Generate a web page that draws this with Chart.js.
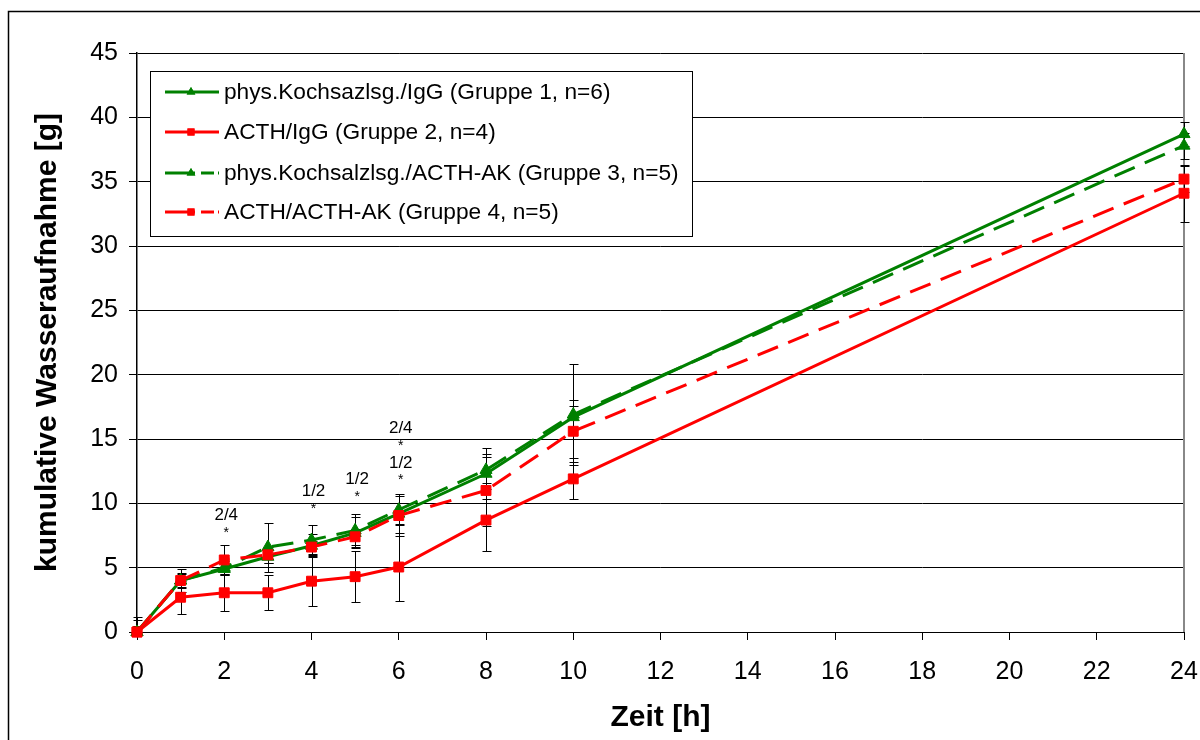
<!DOCTYPE html>
<html>
<head>
<meta charset="utf-8">
<script src="https://cdn.jsdelivr.net/npm/chart.js@4.4.0/dist/chart.umd.min.js"></script>
<style>
  html, body { margin: 0; padding: 0; background: #fff; }
  #wrap { width: 1200px; height: 740px; }
</style>
</head>
<body>
<div id="wrap"><canvas id="chart" width="1200" height="740"></canvas></div>
<script>
// Zeitpunkte (h)
const hours = [0, 1, 2, 3, 4, 5, 6, 8, 10, 24];

// kumulative Wasseraufnahme [g], Mittelwerte
const gruppe1 = [0, 4.0, 4.9, 5.85, 6.7, 7.7, 9.2, 12.3, 16.7, 38.7];
const gruppe2 = [0, 2.7, 3.05, 3.05, 3.95, 4.3, 5.05, 8.7, 11.9, 34.1];
const gruppe3 = [0, 4.0, 5.0, 6.6, 7.15, 7.9, 9.5, 12.6, 16.9, 37.8];
const gruppe4 = [0, 4.0, 5.6, 6.0, 6.6, 7.4, 9.05, 11.0, 15.6, 35.2];

// Fehlerbalken (+/-)
const fehler1 = [1.2, 0.9, 0.5, 0.5, 0.9, 1.2, 0.8, 2.0, 0.9, 0.9];
const fehler2 = [0.5, 1.3, 1.45, 1.35, 1.95, 2.0, 2.65, 2.4, 1.6, 2.2];
const fehler3 = [0.9, 0.5, 0.5, 1.9, 1.15, 1.3, 1.2, 1.0, 3.9, 1.0];
const fehler4 = [0.5, 0.6, 1.2, 0.6, 0.5, 0.6, 1.55, 2.8, 2.4, 1.0];

const labels = [
  'phys.Kochsazlsg./IgG (Gruppe 1, n=6)',
  'ACTH/IgG (Gruppe 2, n=4)',
  'phys.Kochsalzlsg./ACTH-AK (Gruppe 3, n=5)',
  'ACTH/ACTH-AK (Gruppe 4, n=5)'
];

// Signifikanz-Markierungen
const sigHours = [2, 2, 4, 4, 5, 5, 6, 6, 6, 6];
const sigLevels = [9.1, 7.7, 10.9, 9.55, 11.9, 10.5, 15.8, 14.45, 13.1, 11.8];
const sigTexts = ['2/4', '*', '1/2', '*', '1/2', '*', '2/4', '*', '1/2', '*'];

const FONT = "'Liberation Sans', Arial, sans-serif";
const GREEN = '#008000';
const RED = '#ff0000';
const DASH = [22, 11];

const series = [
  { label: labels[0], values: gruppe1, err: fehler1, color: GREEN, dash: [], style: 'triangle', order: 3 },
  { label: labels[1], values: gruppe2, err: fehler2, color: RED, dash: [], style: 'rect', order: 2 },
  { label: labels[2], values: gruppe3, err: fehler3, color: GREEN, dash: DASH, style: 'triangle', order: 1 },
  { label: labels[3], values: gruppe4, err: fehler4, color: RED, dash: DASH, style: 'rect', order: 0 }
];

// Rahmen, Fehlerbalken, Beschriftungen, Legende
const extras = {
  id: 'extras',
  beforeDraw(chart) {
    const ctx = chart.ctx;
    ctx.save();
    ctx.fillStyle = '#fff';
    ctx.fillRect(0, 0, chart.width, chart.height);
    ctx.strokeStyle = '#000';
    ctx.lineWidth = 1.5;
    ctx.strokeRect(8.5, 11.5, 1300, 900);
    ctx.restore();
  },
  beforeDatasetsDraw(chart) {
    const { ctx, chartArea: a, scales: { x, y } } = chart;
    ctx.save();
    // rechter Rand der Zeichenfläche
    ctx.strokeStyle = '#888';
    ctx.lineWidth = 2;
    ctx.beginPath();
    ctx.moveTo(a.right, a.top);
    ctx.lineTo(a.right, a.bottom);
    ctx.stroke();

    ctx.beginPath();
    ctx.rect(0, a.top, chart.width, a.bottom - a.top);
    ctx.clip();
    ctx.strokeStyle = '#000';
    ctx.lineWidth = 1;
    series.forEach(s => {
      hours.forEach((h, i) => {
        const px = Math.round(x.getPixelForValue(h)) + 0.5;
        const top = Math.round(y.getPixelForValue(s.values[i] + s.err[i])) + 0.5;
        const bot = Math.round(y.getPixelForValue(s.values[i] - s.err[i])) + 0.5;
        ctx.beginPath();
        ctx.moveTo(px, top); ctx.lineTo(px, bot);
        ctx.moveTo(px - 4, top); ctx.lineTo(px + 5, top);
        ctx.moveTo(px - 4, bot); ctx.lineTo(px + 5, bot);
        ctx.stroke();
      });
    });
    ctx.restore();
  },
  afterDatasetsDraw(chart) {
    const { ctx, scales: { x, y } } = chart;
    ctx.save();
    ctx.fillStyle = '#000';
    ctx.textAlign = 'center';
    ctx.textBaseline = 'middle';
    sigTexts.forEach((t, i) => {
      ctx.font = (t === '*' ? '14px ' : '17px ') + FONT;
      ctx.fillText(t, x.getPixelForValue(sigHours[i]) + 2, y.getPixelForValue(sigLevels[i]));
    });

    // Legende
    const lx = 150.5, ly = 71.5, lw = 542, lh = 165;
    ctx.fillStyle = '#fff';
    ctx.fillRect(lx, ly, lw, lh);
    ctx.strokeStyle = '#000';
    ctx.lineWidth = 1;
    ctx.strokeRect(lx, ly, lw, lh);
    const rows = [92, 132, 173, 212];
    series.forEach((s, i) => {
      const yy = rows[i];
      ctx.strokeStyle = s.color;
      ctx.lineWidth = 3;
      ctx.setLineDash(s.dash.length ? [30, 6, 13, 4] : []);
      ctx.beginPath();
      ctx.moveTo(165, yy);
      ctx.lineTo(219, yy);
      ctx.stroke();
      ctx.setLineDash([]);
      ctx.fillStyle = s.color;
      Chart.helpers.drawPoint(ctx, { pointStyle: s.style, radius: 5, borderWidth: 0, rotation: 0 }, 191, yy);
      ctx.fill();
      ctx.fillStyle = '#000';
      ctx.textAlign = 'left';
      ctx.font = '22.7px ' + FONT;
      ctx.fillText(s.label, 224, yy + 1);
    });
    ctx.restore();
  }
};

new Chart(document.getElementById('chart'), {
  type: 'line',
  data: {
    datasets: series.map(s => ({
      label: s.label,
      data: hours.map((h, i) => ({ x: h, y: s.values[i] })),
      borderColor: s.color,
      backgroundColor: s.color,
      pointBorderColor: s.color,
      pointBackgroundColor: s.color,
      borderWidth: 3,
      borderDash: s.dash,
      pointStyle: s.style,
      pointRadius: 7,
      pointBorderWidth: 1,
      tension: 0,
      clip: false,
      order: s.order
    }))
  },
  options: {
    responsive: false,
    animation: false,
    devicePixelRatio: 1,
    layout: { padding: { top: 53, right: 16, bottom: 0, left: 25 } },
    plugins: { legend: { display: false }, tooltip: { enabled: false } },
    scales: {
      x: {
        type: 'linear',
        min: 0,
        max: 24,
        ticks: { stepSize: 2, color: '#000', padding: 17, font: { family: FONT, size: 25 } },
        grid: { drawOnChartArea: false, drawTicks: true, tickLength: 8, color: '#000' },
        border: { color: '#000', width: 1 },
        title: { display: true, text: 'Zeit [h]', color: '#000', padding: { top: 0, bottom: 4 }, font: { family: FONT, size: 30, weight: 'bold' } },
        afterFit: s => { s.height = 108; s.paddingLeft = 0; s.paddingRight = 0; }
      },
      y: {
        min: 0,
        max: 45,
        ticks: { stepSize: 5, color: '#000', padding: 11, font: { family: FONT, size: 25 } },
        grid: { color: '#000', lineWidth: 1, drawTicks: true, tickLength: 8 },
        border: { color: '#000', width: 1.5 },
        title: { display: true, text: 'kumulative Wasseraufnahme [g]', color: '#000', padding: { top: 5, bottom: 0 }, font: { family: FONT, size: 30, weight: 'bold' } },
        afterFit: s => { s.width = 112; s.paddingTop = 0; s.paddingBottom = 0; }
      }
    }
  },
  plugins: [extras]
});
</script>
</body>
</html>
